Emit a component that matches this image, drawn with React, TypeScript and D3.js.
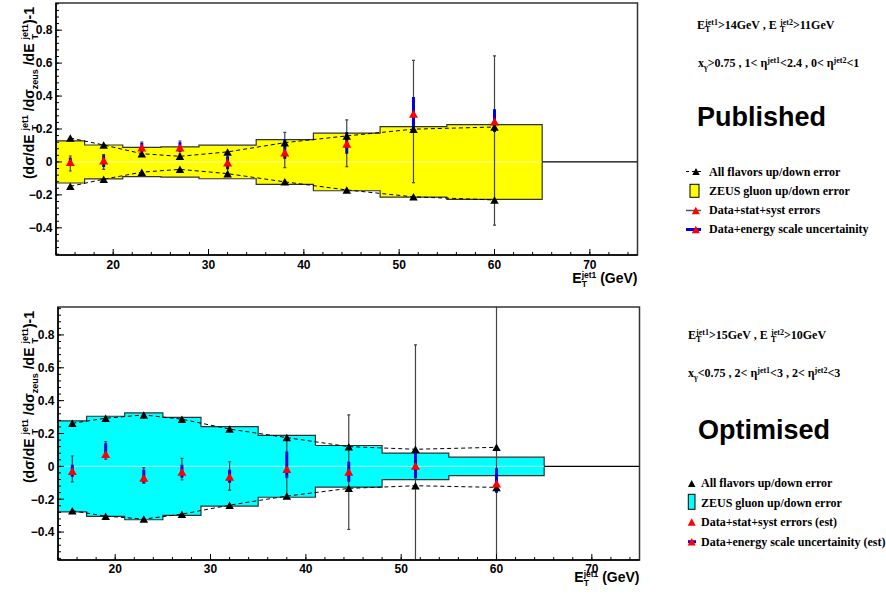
import React from 'react';
import * as d3 from 'd3';

// ---------- data ----------
const binEdges = [14, 17, 21, 25, 29, 35, 41, 48, 55, 65];
const binCenters = [15.5, 19, 23, 27, 32, 38, 44.5, 51.5, 60];
const xTickValues = [20, 30, 40, 50, 60, 70];

// Published (top panel)
const pubGluonErr = [0.128, 0.103, 0.089, 0.092, 0.102, 0.136, 0.175, 0.214, 0.227];
const pubFlavUp = [0.145, 0.103, 0.05, 0.034, 0.061, 0.117, 0.158, 0.199, 0.212];
const pubFlavDown = [-0.148, -0.105, -0.062, -0.045, -0.071, -0.121, -0.17, -0.212, -0.231];
const pubData = [0.0, 0.008, 0.087, 0.087, -0.004, 0.057, 0.111, 0.293, 0.245];
const pubStatHigh = [0.036, 0.045, 0.12, 0.127, 0.06, 0.18, 0.255, 0.617, 0.644];
const pubStatLow = [-0.055, -0.045, 0.036, 0.047, -0.065, -0.035, -0.028, -0.126, -0.384];
const pubEnergyHigh = [0.025, 0.04, 0.115, 0.12, 0.035, 0.14, 0.182, 0.395, 0.32];
const pubEnergyLow = [-0.02, -0.03, 0.06, 0.06, -0.045, 0.02, 0.05, 0.2, 0.182];

// Optimised (bottom panel)
const optGluonErr = [0.277, 0.305, 0.325, 0.298, 0.242, 0.188, 0.127, 0.081, 0.056];
const optFlavUp = [0.262, 0.293, 0.313, 0.287, 0.227, 0.175, 0.12, 0.104, 0.116];
const optFlavDown = [-0.27, -0.303, -0.321, -0.291, -0.236, -0.181, -0.134, -0.118, -0.128];
const optData = [-0.029, 0.075, -0.069, -0.033, -0.063, -0.016, -0.033, 0.004, -0.104];
const optStatHigh = [0.063, 0.15, -0.008, 0.049, 0.028, 0.18, 0.313, 0.74, 1.3];
const optStatLow = [-0.094, 0.043, -0.104, -0.083, -0.145, -0.185, -0.384, -0.8, -0.8];
const optEnergyHigh = [0.01, 0.14, -0.02, 0.01, -0.02, 0.09, 0.028, 0.089, -0.012];
const optEnergyLow = [-0.063, 0.05, -0.1, -0.07, -0.1, -0.07, -0.094, -0.073, -0.161];

const pubLegend = ['All flavors up/down error', 'ZEUS gluon up/down error', 'Data+stat+syst errors', 'Data+energy scale uncertainity'];
const optLegend = ['All flavors up/down error', 'ZEUS gluon up/down error', 'Data+stat+syst errors (est)', 'Data+energy scale uncertainity (est)'];

// ---------- helpers ----------
const SANS = '"Liberation Sans", Arial, sans-serif';
const SERIF = '"Liberation Serif", "Times New Roman", serif';

let measureCtx: CanvasRenderingContext2D | null = null;
function measure(s: string, font: string): number {
  if (!measureCtx) measureCtx = document.createElement('canvas').getContext('2d');
  if (!measureCtx) return s.length * 6;
  measureCtx.font = font;
  return measureCtx.measureText(s).width;
}

type Seg = { t?: string; sup?: string; sub?: string };

function RichText(props: {
  x: number; y: number; segs: Seg[]; family: string; size: number; ssize: number;
  anchor?: 'start' | 'end' | 'middle'; rotate?: number; supDy: number; subDy: number; fill?: string;
}) {
  const { x, y, segs, family, size, ssize, anchor = 'start', rotate = 0, supDy, subDy, fill = '#000' } = props;
  const mainFont = `bold ${size}px ${family}`;
  const scrFont = `bold ${ssize}px ${family}`;
  let cx = 0;
  const items: { x: number; y: number; t: string; sz: number }[] = [];
  segs.forEach((s) => {
    if (s.t !== undefined) {
      items.push({ x: cx, y: 0, t: s.t, sz: size });
      cx += measure(s.t, mainFont);
    } else {
      let w = 0;
      if (s.sup) { items.push({ x: cx, y: supDy, t: s.sup, sz: ssize }); w = Math.max(w, measure(s.sup, scrFont)); }
      if (s.sub) { items.push({ x: cx, y: subDy, t: s.sub, sz: ssize }); w = Math.max(w, measure(s.sub, scrFont)); }
      cx += w;
    }
  });
  const off = anchor === 'end' ? -cx : anchor === 'middle' ? -cx / 2 : 0;
  return (
    <g transform={`translate(${x},${y}) rotate(${rotate})`}>
      {items.map((it, i) => (
        <text key={i} x={it.x + off} y={it.y} fontFamily={family} fontWeight="bold" fontSize={it.sz} fill={fill}
          style={{ whiteSpace: 'pre' }}>{it.t}</text>
      ))}
    </g>
  );
}

function tri(x: number, y: number, w: number, h: number) {
  return `M${x - w / 2},${y + h / 2}L${x + w / 2},${y + h / 2}L${x},${y - h / 2}Z`;
}

const yTitleSegs: Seg[] = [
  { t: '(d\u03c3/dE ' }, { sup: 'jet1', sub: 'T' }, { t: ' /d\u03c3' }, { sub: 'zeus' }, { t: ' /dE ' },
  { sup: 'jet1', sub: 'T' }, { t: ')-1' },
];
const xTitleSegs: Seg[] = [{ t: 'E' }, { sup: 'jet1', sub: 'T' }, { t: ' (GeV)' }];

interface PanelProps {
  id: string;
  left: number; right: number; top: number; bottom: number;
  yDomain: [number, number];
  gluon: number[]; flavUp: number[]; flavDown: number[]; data: number[];
  statHigh: number[]; statLow: number[]; energyHigh: number[]; energyLow: number[];
  fill: string; centerColor: string;
  xLabelBaseline: number; xTitleBaseline: number;
}

function Panel(p: PanelProps) {
  const x = d3.scaleLinear().domain([14, 75]).range([p.left, p.right]);
  const y = d3.scaleLinear().domain(p.yDomain).range([p.bottom, p.top]);
  const yMajor = y.ticks(8);
  const yMinor = d3.range(-20, 30).map((i) => i * 0.04).filter((v) => v >= p.yDomain[0] && v <= p.yDomain[1]);
  const xMinor = d3.range(14, 76, 2);
  const stepPts = binEdges.map((e, i) => [e, p.gluon[Math.min(i, p.gluon.length - 1)]] as [number, number]);
  const area = d3.area<[number, number]>().x((d) => x(d[0])).y0((d) => y(-d[1])).y1((d) => y(d[1])).curve(d3.curveStepAfter);
  const line = d3.line<[number, number]>().x((d) => x(d[0])).y((d) => y(d[1]));
  const upPts = binCenters.map((c, i) => [c, p.flavUp[i]] as [number, number]);
  const dnPts = binCenters.map((c, i) => [c, p.flavDown[i]] as [number, number]);
  const fmt = (v: number) => (Math.abs(v) < 1e-9 ? '0' : d3.format('.1f')(v));
  const clipId = `clip-${p.id}`;
  return (
    <g>
      <defs>
        <clipPath id={clipId}>
          <rect x={p.left} y={p.top} width={p.right - p.left} height={p.bottom - p.top} />
        </clipPath>
      </defs>
      <g clipPath={`url(#${clipId})`}>
        <path d={area(stepPts) || ''} fill={p.fill} stroke="#333" strokeWidth={1.2} />
        <line x1={x(14)} x2={x(65)} y1={y(0)} y2={y(0)} stroke={p.centerColor} strokeWidth={1} />
        <line x1={x(65)} x2={x(75)} y1={y(0)} y2={y(0)} stroke="#000" strokeWidth={1.2} />
        {/* stat+syst error bars */}
        {binCenters.map((c, i) => (
          <g key={`s${i}`} stroke="#444" strokeWidth={1.2}>
            <line x1={x(c)} x2={x(c)} y1={y(p.statHigh[i])} y2={y(p.statLow[i])} />
            <line x1={x(c) - 1.5} x2={x(c) + 1.5} y1={y(p.statHigh[i])} y2={y(p.statHigh[i])} />
            <line x1={x(c) - 1.5} x2={x(c) + 1.5} y1={y(p.statLow[i])} y2={y(p.statLow[i])} />
          </g>
        ))}
        {/* energy scale bars */}
        {binCenters.map((c, i) => (
          <line key={`e${i}`} x1={x(c)} x2={x(c)} y1={y(p.energyHigh[i])} y2={y(p.energyLow[i])} stroke="#0000e0" strokeWidth={3} />
        ))}
        {/* all flavours dashed */}
        <path d={line(upPts) || ''} fill="none" stroke="#000" strokeWidth={1} strokeDasharray="4,3" />
        <path d={line(dnPts) || ''} fill="none" stroke="#000" strokeWidth={1} strokeDasharray="4,3" />
        {upPts.concat(dnPts).map((d, i) => (
          <path key={`t${i}`} d={tri(x(d[0]), y(d[1]), 8.5, 7.5)} fill="#000" />
        ))}
        {binCenters.map((c, i) => (
          <path key={`r${i}`} d={tri(x(c), y(p.data[i]), 9, 8)} fill="#ff0000" />
        ))}
      </g>
      {/* frame */}
      <rect x={p.left} y={p.top} width={p.right - p.left} height={p.bottom - p.top} fill="none" stroke="#333" strokeWidth={1.5} />
      {/* y axis */}
      {yMinor.map((v, i) => (
        <line key={`ym${i}`} x1={p.left} x2={p.left + 3} y1={y(v)} y2={y(v)} stroke="#000" strokeWidth={1} />
      ))}
      {yMajor.map((v, i) => (
        <g key={`yM${i}`}>
          <line x1={p.left} x2={p.left + 6} y1={y(v)} y2={y(v)} stroke="#000" strokeWidth={1} />
          <text x={p.left - 3.5} y={y(v) + 4.3} textAnchor="end" fontFamily={SANS} fontWeight="bold" fontSize={12}>{fmt(v)}</text>
        </g>
      ))}
      {/* x axis */}
      {xMinor.map((v, i) => (
        <line key={`xm${i}`} x1={x(v)} x2={x(v)} y1={p.bottom} y2={p.bottom - 3} stroke="#000" strokeWidth={1} />
      ))}
      {xTickValues.map((v, i) => (
        <g key={`xM${i}`}>
          <line x1={x(v)} x2={x(v)} y1={p.bottom} y2={p.bottom - 6} stroke="#000" strokeWidth={1} />
          <text x={x(v)} y={p.xLabelBaseline} textAnchor="middle" fontFamily={SANS} fontWeight="bold" fontSize={12}>{v}</text>
        </g>
      ))}
      <line x1={p.left} x2={p.right} y1={p.bottom} y2={p.bottom} stroke="#000" strokeWidth={1.5} />
      <line x1={p.left} x2={p.left} y1={p.top} y2={p.bottom} stroke="#000" strokeWidth={1.5} />
      <RichText x={p.right} y={p.xTitleBaseline} segs={xTitleSegs} family={SANS} size={14} ssize={8.5} anchor="end" supDy={-4.8} subDy={4} />
      <RichText x={33.5} y={p.top + 4} segs={yTitleSegs} family={SANS} size={14} ssize={9} anchor="end" rotate={-90} supDy={-5.5} subDy={4} />
    </g>
  );
}

export default function App() {
  return (
    <svg width={886} height={598} style={{ position: 'absolute', left: 0, top: 0, background: '#fff' }}>
      <rect x={0} y={0} width={886} height={598} fill="#fff" />
      <Panel id="pub" left={56} right={637.5} top={3} bottom={255} yDomain={[-0.565, 0.965]}
        gluon={pubGluonErr} flavUp={pubFlavUp} flavDown={pubFlavDown} data={pubData}
        statHigh={pubStatHigh} statLow={pubStatLow} energyHigh={pubEnergyHigh} energyLow={pubEnergyLow}
        fill="#ffff00" centerColor="#ffffb0" xLabelBaseline={269.3} xTitleBaseline={283} />
      <Panel id="opt" left={58} right={639.5} top={307} bottom={560} yDomain={[-0.57, 0.97]}
        gluon={optGluonErr} flavUp={optFlavUp} flavDown={optFlavDown} data={optData}
        statHigh={optStatHigh} statLow={optStatLow} energyHigh={optEnergyHigh} energyLow={optEnergyLow}
        fill="#00ffff" centerColor="#b0ffff" xLabelBaseline={573} xTitleBaseline={582} />

      {/* top right annotations */}
      <RichText x={697} y={29} family={SERIF} size={12} ssize={8} supDy={-4.5} subDy={3}
        segs={[{ t: 'E' }, { sup: 'jet1', sub: 'T' }, { t: '>14GeV , E ' }, { sup: 'jet2', sub: 'T' }, { t: '>11GeV' }]} />
      <RichText x={698} y={67} family={SERIF} size={12} ssize={8} supDy={-4.5} subDy={3}
        segs={[{ t: 'x' }, { sub: '\u03b3' }, { t: '>0.75 , 1< \u03b7' }, { sup: 'jet1' }, { t: '<2.4 , 0< \u03b7' }, { sup: 'jet2' }, { t: '<1' }]} />
      <text x={697} y={126} fontFamily={SANS} fontWeight="bold" fontSize={27}>Published</text>

      {/* top legend */}
      <line x1={686} x2={703} y1={171.5} y2={171.5} stroke="#000" strokeWidth={1} strokeDasharray="3,3" />
      <path d={tri(696, 171.5, 7.5, 7)} fill="#000" />
      <rect x={690} y={184.3} width={9} height={13} fill="#ffff00" stroke="#000" strokeWidth={1} />
      <line x1={686} x2={701} y1={210.5} y2={210.5} stroke="#555" strokeWidth={1.5} />
      <path d={tri(695.8, 210.5, 8, 7.5)} fill="#ff0000" />
      <line x1={686} x2={701} y1={229.5} y2={229.5} stroke="#0000e0" strokeWidth={3} />
      <path d={tri(695.8, 229.5, 8, 7.5)} fill="#ff0000" />
      {pubLegend.map((s, i) => (
        <text key={`pl${i}`} x={709} y={175.5 + i * 19.2} fontFamily={SERIF} fontWeight="bold" fontSize={12}>{s}</text>
      ))}

      {/* bottom right annotations */}
      <RichText x={688} y={339} family={SERIF} size={12} ssize={8} supDy={-4.5} subDy={3}
        segs={[{ t: 'E' }, { sup: 'jet1', sub: 'T' }, { t: '>15GeV , E ' }, { sup: 'jet2', sub: 'T' }, { t: '>10GeV' }]} />
      <RichText x={688} y={377} family={SERIF} size={12} ssize={8} supDy={-4.5} subDy={3}
        segs={[{ t: 'x' }, { sub: '\u03b3' }, { t: '<0.75 , 2< \u03b7' }, { sup: 'jet1' }, { t: '<3 , 2< \u03b7' }, { sup: 'jet2' }, { t: '<3' }]} />
      <text x={698} y={439} fontFamily={SANS} fontWeight="bold" fontSize={27}>Optimised</text>

      {/* bottom legend */}
      <path d={tri(691.7, 483.5, 7.5, 7)} fill="#000" />
      <rect x={688.3} y={494.3} width={6.7} height={15} fill="#00ffff" stroke="#000" strokeWidth={1} />
      <path d={tri(691.7, 522, 8, 7.5)} fill="#ff0000" />
      <line x1={688} x2={696} y1={541.7} y2={541.7} stroke="#0000e0" strokeWidth={3} />
      <path d={tri(691.7, 541.7, 8, 7.5)} fill="#ff0000" />
      {optLegend.map((s, i) => (
        <text key={`ol${i}`} x={701} y={487 + i * 19.5} fontFamily={SERIF} fontWeight="bold" fontSize={12}>{s}</text>
      ))}
    </svg>
  );
}
